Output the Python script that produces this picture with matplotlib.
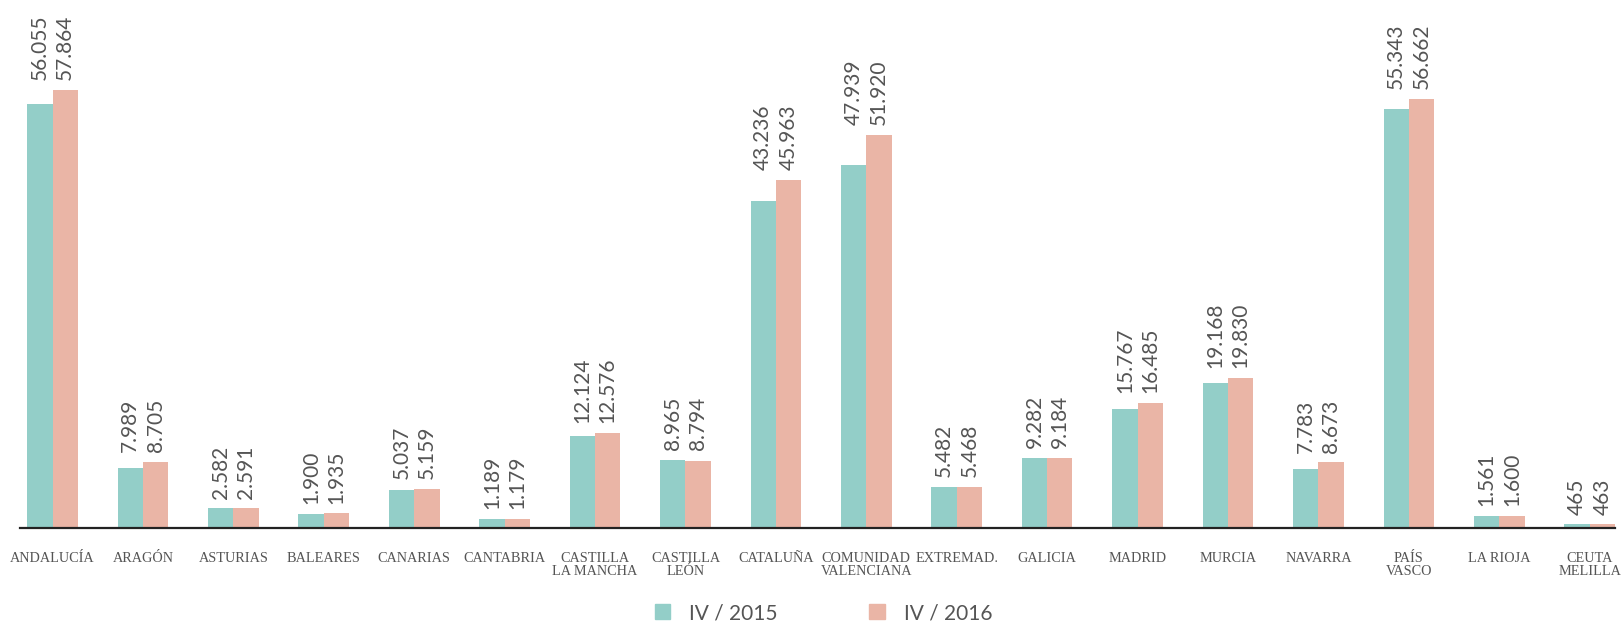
import matplotlib
matplotlib.use('Agg')
import matplotlib.pyplot as plt
from matplotlib.patches import Patch
import numpy as np

# data
regiones = ['ANDALUCÍA', 'ARAGÓN', 'ASTURIAS', 'BALEARES', 'CANARIAS', 'CANTABRIA',
            'CASTILLA\nLA MANCHA', 'CASTILLA\nLEÓN', 'CATALUÑA', 'COMUNIDAD\nVALENCIANA',
            'EXTREMAD.', 'GALICIA', 'MADRID', 'MURCIA', 'NAVARRA', 'PAÍS\nVASCO',
            'LA RIOJA', 'CEUTA\nMELILLA']
iv_2015 = [56055, 7989, 2582, 1900, 5037, 1189, 12124, 8965, 43236, 47939,
           5482, 9282, 15767, 19168, 7783, 55343, 1561, 465]
iv_2016 = [57864, 8705, 2591, 1935, 5159, 1179, 12576, 8794, 45963, 51920,
           5468, 9184, 16485, 19830, 8673, 56662, 1600, 463]
series_labels = ['IV / 2015', 'IV / 2016']

teal = '#93cec8'
salmon = '#eab5a6'

def fmt(v):
    # spanish thousands separator
    return f'{v:,}'.replace(',', '.')

fig = plt.figure(figsize=(16.21, 6.23), dpi=100)
ax = fig.add_axes([20 / 1621, 95 / 623, 1595 / 1621, 528 / 623])

x = np.arange(len(regiones))
w = 0.28
ax.bar(x - w / 2, iv_2015, w, color=teal)
ax.bar(x + w / 2, iv_2016, w, color=salmon)

# labels sit above the taller bar of each pair
for i in x:
    top = max(iv_2015[i], iv_2016[i])
    for off, v in ((-w / 2, iv_2015[i]), (w / 2, iv_2016[i])):
        ax.annotate(fmt(v), (i + off, top), xytext=(0, 7), textcoords='offset points',
                    rotation=90, ha='center', va='bottom', fontsize=15,
                    family='Lato', color='#555555')

ax.set_xlim(-0.36, 17.28)
ax.set_ylim(0, 57864 * 528 / 438)
for s in ['top', 'right', 'left']:
    ax.spines[s].set_visible(False)
ax.spines['bottom'].set_linewidth(1.6)
ax.spines['bottom'].set_color('#222222')
ax.set_yticks([])
ax.set_xticks(x)
ax.set_xticklabels(regiones, family='Liberation Serif', fontsize=10.3, color='#555555',
                   linespacing=1.05)
ax.tick_params(axis='x', length=0, pad=17)

handles = [Patch(color=teal), Patch(color=salmon)]
fig.legend(handles, series_labels, loc='center', bbox_to_anchor=(0.508, 0.016), ncol=2,
           frameon=False, handlelength=0.75, handleheight=0.75, handletextpad=0.9,
           columnspacing=4.4, prop={'family': 'Lato', 'size': 15},
           labelcolor='#555555')

plt.savefig('out.png', dpi=100)
plt.close()
